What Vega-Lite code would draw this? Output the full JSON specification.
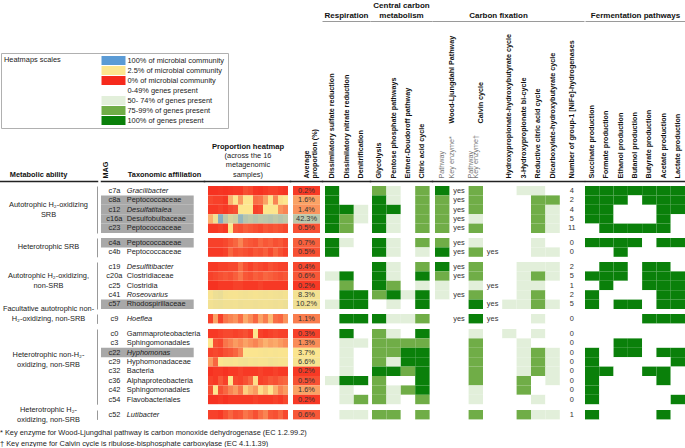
{
"$schema":"https://vega.github.io/schema/vega-lite/v6.json",
"padding":{"left":0,"top":1,"right":0,"bottom":0},
"background":"white",
"config":{"font":"Liberation Sans","view":{"stroke":null},"axis":{"grid":false,"labelFont":"Liberation Sans","titleFont":"Liberation Sans"},"text":{"font":"Liberation Sans","fontSize":7.4,"color":"#222"},"title":{"font":"Liberation Sans","subtitleFont":"Liberation Sans"},
"legend":{"labelFont":"Liberation Sans","titleFont":"Liberation Sans"}},
"title":{"text":["* Key enzyme for Wood-Ljungdhal pathway is carbon monoxide dehydrogenase (EC 1.2.99.2)","† Key enzyme for Calvin cycle is ribulose-bisphosphate carboxylase (EC 4.1.1.39)"],"orient":"bottom","anchor":"start","fontSize":7.4,"fontWeight":"normal","color":"#222","lineHeight":10.5,"offset":6},
"data":{"values":[
{"mag":"c7a","grp":"Autotrophic H₂-oxidizing|SRB","ord":1,"tax":"Gracilibacter","genus":true,"hl":false,"avg":0.2,"hm":[0.1,0.1,0.15,0.1,0.15,0.2,0.2,0.5,0.4,0.15,0.1,0.2,0.3,0.3,0.2,0.15],"sulf":3,"nitr":0,"denit":0,"glyc":2,"ppp":1,"ed":0,"tca":2,"wlp":3,"wlk":1,"cbp":2,"cbk":0,"hphb":0,"hpbi":1,"rtca":1,"dchb":0,"nife":4,"succ":3,"form":3,"etoh":3,"buoh":3,"buty":3,"acet":3,"lact":3},
{"mag":"c8a","grp":"Autotrophic H₂-oxidizing|SRB","ord":2,"tax":"Peptococcaceae","genus":false,"hl":true,"avg":1.6,"hm":[0.4,0.3,0.3,0.2,1.8,2.6,1.5,2.8,2.6,0.9,1.0,1.6,2.8,1.2,2.4,2.5],"sulf":3,"nitr":0,"denit":0,"glyc":3,"ppp":1,"ed":0,"tca":2,"wlp":2,"wlk":1,"cbp":2,"cbk":0,"hphb":0,"hpbi":0,"rtca":2,"dchb":2,"nife":2,"succ":3,"form":3,"etoh":3,"buoh":0,"buty":3,"acet":3,"lact":3},
{"mag":"c12","grp":"Autotrophic H₂-oxidizing|SRB","ord":3,"tax":"Desulfatitalea","genus":true,"hl":true,"avg":1.4,"hm":[0.2,0.2,0.3,0.2,0.4,0.5,3.0,2.8,2.7,0.3,0.4,2.5,2.9,2.6,1.4,1.2],"sulf":3,"nitr":3,"denit":1,"glyc":3,"ppp":3,"ed":0,"tca":2,"wlp":2,"wlk":1,"cbp":2,"cbk":0,"hphb":0,"hpbi":0,"rtca":2,"dchb":1,"nife":4,"succ":3,"form":3,"etoh":0,"buoh":0,"buty":0,"acet":3,"lact":3},
{"mag":"c16a","grp":"Autotrophic H₂-oxidizing|SRB","ord":4,"tax":"Desulfobulbaceae","genus":false,"hl":true,"avg":42.3,"hm":[1.8,10,75,40,25,30,65,45,40,45,40,42,45,40,45,40],"sulf":3,"nitr":2,"denit":1,"glyc":3,"ppp":1,"ed":0,"tca":2,"wlp":2,"wlk":1,"cbp":1,"cbk":0,"hphb":0,"hpbi":0,"rtca":2,"dchb":1,"nife":5,"succ":3,"form":3,"etoh":0,"buoh":0,"buty":0,"acet":3,"lact":0},
{"mag":"c23","grp":"Autotrophic H₂-oxidizing|SRB","ord":5,"tax":"Peptococcaceae","genus":false,"hl":true,"avg":0.5,"hm":[0.2,0.2,0.3,0.2,2.6,0.6,0.5,0.7,0.6,0.5,0.4,0.6,0.5,0.6,0.5,0.4],"sulf":3,"nitr":2,"denit":0,"glyc":3,"ppp":1,"ed":0,"tca":2,"wlp":2,"wlk":1,"cbp":2,"cbk":0,"hphb":0,"hpbi":0,"rtca":2,"dchb":1,"nife":11,"succ":0,"form":3,"etoh":3,"buoh":3,"buty":3,"acet":3,"lact":0},
{"mag":"c4a","grp":"Heterotrophic SRB","ord":6,"tax":"Peptococcaceae","genus":false,"hl":true,"avg":0.7,"hm":[0.3,0.3,0.3,0.4,0.6,0.8,1.2,0.7,0.6,0.5,0.8,0.6,0.7,0.5,0.6,0.4],"sulf":3,"nitr":1,"denit":0,"glyc":3,"ppp":1,"ed":0,"tca":2,"wlp":2,"wlk":1,"cbp":1,"cbk":0,"hphb":0,"hpbi":0,"rtca":1,"dchb":0,"nife":0,"succ":3,"form":3,"etoh":3,"buoh":3,"buty":0,"acet":3,"lact":3},
{"mag":"c4b","grp":"Heterotrophic SRB","ord":7,"tax":"Peptococcaceae","genus":false,"hl":false,"avg":0.5,"hm":[0.2,0.2,0.2,0.3,0.8,0.5,0.6,0.5,0.4,0.6,0.5,0.7,0.4,0.8,0.5,0.3],"sulf":3,"nitr":0,"denit":0,"glyc":3,"ppp":1,"ed":0,"tca":1,"wlp":3,"wlk":1,"cbp":2,"cbk":1,"hphb":0,"hpbi":0,"rtca":1,"dchb":1,"nife":0,"succ":0,"form":0,"etoh":3,"buoh":0,"buty":0,"acet":0,"lact":0},
{"mag":"c19","grp":"Autotrophic H₂-oxidizing,|non-SRB","ord":8,"tax":"Desulfitibacter","genus":true,"hl":false,"avg":0.4,"hm":[0.2,0.2,0.3,0.3,0.4,0.4,0.9,0.5,0.3,0.5,0.4,0.3,0.5,0.4,0.3,0.3],"sulf":0,"nitr":0,"denit":0,"glyc":3,"ppp":1,"ed":0,"tca":2,"wlp":3,"wlk":1,"cbp":2,"cbk":0,"hphb":0,"hpbi":1,"rtca":1,"dchb":1,"nife":2,"succ":0,"form":3,"etoh":3,"buoh":0,"buty":3,"acet":3,"lact":0},
{"mag":"c20a","grp":"Autotrophic H₂-oxidizing,|non-SRB","ord":9,"tax":"Clostridiaceae","genus":false,"hl":false,"avg":0.6,"hm":[0.3,0.4,0.5,0.6,0.5,0.7,1.0,0.6,0.5,0.7,0.6,0.8,0.7,0.6,0.5,0.6],"sulf":1,"nitr":3,"denit":0,"glyc":3,"ppp":1,"ed":0,"tca":3,"wlp":2,"wlk":1,"cbp":2,"cbk":0,"hphb":0,"hpbi":1,"rtca":2,"dchb":1,"nife":5,"succ":3,"form":3,"etoh":3,"buoh":0,"buty":3,"acet":3,"lact":3},
{"mag":"c25","grp":"Autotrophic H₂-oxidizing,|non-SRB","ord":10,"tax":"Clostridia","genus":false,"hl":false,"avg":0.2,"hm":[0.1,0.1,0.2,0.2,0.2,0.3,0.3,0.2,0.2,0.2,0.3,0.2,0.2,0.2,0.2,0.2],"sulf":0,"nitr":2,"denit":0,"glyc":3,"ppp":2,"ed":0,"tca":1,"wlp":1,"wlk":0,"cbp":1,"cbk":1,"hphb":0,"hpbi":1,"rtca":1,"dchb":0,"nife":1,"succ":0,"form":3,"etoh":0,"buoh":0,"buty":3,"acet":3,"lact":3},
{"mag":"c41","grp":"Autotrophic H₂-oxidizing,|non-SRB","ord":11,"tax":"Roseovarius","genus":true,"hl":false,"avg":8.3,"hm":[6,12,14,8,7,6,8,9,8,7,8,9,8,9,10,8],"sulf":0,"nitr":3,"denit":3,"glyc":2,"ppp":3,"ed":1,"tca":3,"wlp":1,"wlk":1,"cbp":2,"cbk":0,"hphb":0,"hpbi":1,"rtca":2,"dchb":0,"nife":2,"succ":3,"form":0,"etoh":0,"buoh":0,"buty":0,"acet":3,"lact":3},
{"mag":"c57","grp":"Autotrophic H₂-oxidizing,|non-SRB","ord":12,"tax":"Rhodospirillaceae","genus":false,"hl":true,"avg":10.2,"hm":[9,11,12,10,10,9,11,10,10,11,10,9,10,11,10,12],"sulf":1,"nitr":3,"denit":3,"glyc":0,"ppp":1,"ed":0,"tca":3,"wlp":0,"wlk":0,"cbp":3,"cbk":1,"hphb":1,"hpbi":1,"rtca":2,"dchb":1,"nife":5,"succ":3,"form":0,"etoh":3,"buoh":3,"buty":0,"acet":3,"lact":3},
{"mag":"c9","grp":"Facultative autotrophic non-|H₂-oxidizing, non-SRB","ord":13,"tax":"Hoeflea","genus":true,"hl":false,"avg":1.1,"hm":[0.3,1.6,0.3,1.0,1.2,1.4,0.9,1.7,1.3,0.8,1.6,1.1,1.9,0.9,0.8,1.4],"sulf":0,"nitr":3,"denit":3,"glyc":3,"ppp":1,"ed":1,"tca":2,"wlp":0,"wlk":1,"cbp":3,"cbk":1,"hphb":0,"hpbi":0,"rtca":1,"dchb":0,"nife":0,"succ":0,"form":0,"etoh":0,"buoh":0,"buty":3,"acet":3,"lact":3},
{"mag":"c0","grp":"Heterotrophic non-H₂-|oxidizing, non-SRB","ord":14,"tax":"Gammaproteobacteria","genus":false,"hl":false,"avg":0.3,"hm":[0.2,0.2,0.3,0.4,0.4,0.3,0.4,0.5,0.3,2.6,0.3,0.2,0.3,0.4,0.3,0.3],"sulf":0,"nitr":3,"denit":0,"glyc":2,"ppp":1,"ed":0,"tca":3,"wlp":0,"wlk":0,"cbp":1,"cbk":0,"hphb":1,"hpbi":0,"rtca":1,"dchb":0,"nife":0,"succ":0,"form":0,"etoh":0,"buoh":0,"buty":0,"acet":0,"lact":0},
{"mag":"c3","grp":"Heterotrophic non-H₂-|oxidizing, non-SRB","ord":15,"tax":"Sphingomonadales","genus":false,"hl":false,"avg":1.3,"hm":[2.6,0.5,0.4,1.0,1.2,1.5,1.3,1.6,1.4,1.2,1.5,1.8,1.6,1.7,1.5,1.3],"sulf":0,"nitr":1,"denit":1,"glyc":2,"ppp":2,"ed":2,"tca":2,"wlp":0,"wlk":0,"cbp":2,"cbk":0,"hphb":0,"hpbi":1,"rtca":0,"dchb":0,"nife":0,"succ":0,"form":0,"etoh":3,"buoh":3,"buty":0,"acet":0,"lact":0},
{"mag":"c22","grp":"Heterotrophic non-H₂-|oxidizing, non-SRB","ord":16,"tax":"Hyphomonas","genus":true,"hl":true,"avg":3.7,"hm":[0.3,0.4,0.3,0.5,0.6,0.8,1.2,3,3.5,4,5,6,5,6,5,4.5],"sulf":0,"nitr":1,"denit":0,"glyc":2,"ppp":2,"ed":3,"tca":3,"wlp":0,"wlk":0,"cbp":2,"cbk":0,"hphb":0,"hpbi":1,"rtca":2,"dchb":1,"nife":0,"succ":3,"form":0,"etoh":3,"buoh":3,"buty":0,"acet":3,"lact":3},
{"mag":"c29","grp":"Heterotrophic non-H₂-|oxidizing, non-SRB","ord":17,"tax":"Hyphomonadaceae","genus":false,"hl":false,"avg":6.6,"hm":[1.5,0.8,4,6,7,5,8,9,7,8,6,7,9,8,7,6],"sulf":0,"nitr":1,"denit":0,"glyc":2,"ppp":1,"ed":3,"tca":3,"wlp":0,"wlk":0,"cbp":2,"cbk":0,"hphb":0,"hpbi":1,"rtca":2,"dchb":1,"nife":0,"succ":3,"form":0,"etoh":0,"buoh":0,"buty":0,"acet":0,"lact":3},
{"mag":"c32","grp":"Heterotrophic non-H₂-|oxidizing, non-SRB","ord":18,"tax":"Bacteria","genus":false,"hl":false,"avg":0.2,"hm":[0.1,0.2,0.2,0.1,0.2,0.2,0.3,0.2,0.2,0.2,0.3,0.2,0.2,0.3,0.2,0.2],"sulf":0,"nitr":1,"denit":0,"glyc":3,"ppp":3,"ed":2,"tca":3,"wlp":0,"wlk":0,"cbp":2,"cbk":0,"hphb":0,"hpbi":1,"rtca":2,"dchb":1,"nife":0,"succ":3,"form":3,"etoh":0,"buoh":0,"buty":3,"acet":3,"lact":0},
{"mag":"c36","grp":"Heterotrophic non-H₂-|oxidizing, non-SRB","ord":19,"tax":"Alphaproteobacteria","genus":false,"hl":false,"avg":0.5,"hm":[0.3,0.2,0.6,0.3,2.6,0.4,0.3,0.5,0.8,2.4,0.3,0.4,0.6,0.5,0.7,0.8],"sulf":1,"nitr":3,"denit":3,"glyc":2,"ppp":0,"ed":0,"tca":3,"wlp":0,"wlk":0,"cbp":2,"cbk":0,"hphb":0,"hpbi":2,"rtca":0,"dchb":1,"nife":0,"succ":3,"form":0,"etoh":0,"buoh":0,"buty":0,"acet":3,"lact":0},
{"mag":"c42","grp":"Heterotrophic non-H₂-|oxidizing, non-SRB","ord":20,"tax":"Sphingomonadales","genus":false,"hl":false,"avg":1.6,"hm":[0.5,2.6,0.5,0.8,1.2,1.5,1.0,2.2,1.8,1.5,2.4,2.0,2.5,1.8,1.2,1.5],"sulf":0,"nitr":1,"denit":0,"glyc":2,"ppp":1,"ed":2,"tca":3,"wlp":0,"wlk":0,"cbp":1,"cbk":0,"hphb":0,"hpbi":2,"rtca":0,"dchb":0,"nife":0,"succ":3,"form":0,"etoh":0,"buoh":0,"buty":0,"acet":0,"lact":0},
{"mag":"c54","grp":"Heterotrophic non-H₂-|oxidizing, non-SRB","ord":21,"tax":"Flavobacteriales","genus":false,"hl":false,"avg":0.2,"hm":[0.1,0.1,0.2,0.1,0.2,0.2,0.2,0.2,0.2,0.3,0.2,0.2,0.2,0.3,0.2,0.4],"sulf":0,"nitr":1,"denit":2,"glyc":2,"ppp":1,"ed":0,"tca":2,"wlp":0,"wlk":0,"cbp":1,"cbk":0,"hphb":0,"hpbi":0,"rtca":1,"dchb":0,"nife":0,"succ":3,"form":0,"etoh":0,"buoh":0,"buty":0,"acet":0,"lact":3},
{"mag":"c52","grp":"Heterotrophic H₂-|oxidizing, non-SRB","ord":22,"tax":"Lutibacter","genus":true,"hl":false,"avg":0.6,"hm":[0.3,0.3,0.2,0.5,0.8,0.5,0.6,1.0,0.8,0.5,0.9,1.2,0.6,0.5,0.8,0.4],"sulf":0,"nitr":1,"denit":1,"glyc":2,"ppp":2,"ed":0,"tca":2,"wlp":0,"wlk":0,"cbp":2,"cbk":0,"hphb":0,"hpbi":2,"rtca":1,"dchb":1,"nife":1,"succ":3,"form":0,"etoh":0,"buoh":0,"buty":0,"acet":3,"lact":0}
]},
"spacing":0,
"resolve":{"scale":{"color":"shared","fill":"shared"}},
"hconcat":[
{"facet":{"row":{"field":"grp","type":"nominal","sort":["Autotrophic H₂-oxidizing|SRB","Heterotrophic SRB","Autotrophic H₂-oxidizing,|non-SRB","Facultative autotrophic non-|H₂-oxidizing, non-SRB","Heterotrophic non-H₂-|oxidizing, non-SRB","Heterotrophic H₂-|oxidizing, non-SRB"],"title":null,"header":{"labels":false}}},
 "spacing":{"row":5},"bounds":"flush","align":"none","resolve":{"scale":{"y":"independent"}},
 "spec":{"width":97,"height":{"step":9.4},"layer":[
  {"mark":{"type":"rect","opacity":0},"encoding":{"y":{"field":"mag","type":"nominal","sort":{"field":"ord","op":"min"},"scale":{"paddingInner":0,"paddingOuter":0},"axis":null},
   "x":{"datum":"Metabolic ability","type":"nominal","scale":{"paddingInner":0,"paddingOuter":0},"axis":{"orient":"top","offset":5,"domain":true,"domainColor":"#222","domainWidth":1.5,"domainCap":"square","ticks":false,"labelAngle":0,"labelPadding":3,"labelFontSize":7.4,"labelFontWeight":"bold","labelColor":"#111","labelOffset":-10,"title":null}}}},
  {"transform":[{"filter":"datum.mag == 'c12' || datum.mag == 'c52'"}],"mark":{"type":"text","lineBreak":"|","lineHeight":10,"dy":-5},"encoding":{"y":{"field":"mag","type":"nominal","sort":{"field":"ord","op":"min"},"bandPosition":0.5,"axis":null},"x":{"datum":"Metabolic ability","type":"nominal"},"text":{"field":"grp"}}},
  {"transform":[{"filter":"datum.mag == 'c4a'"}],"mark":{"type":"text","lineBreak":"|","lineHeight":10},"encoding":{"y":{"field":"mag","type":"nominal","sort":{"field":"ord","op":"min"},"bandPosition":1,"axis":null},"x":{"datum":"Metabolic ability","type":"nominal"},"text":{"field":"grp"}}},
  {"transform":[{"filter":"datum.mag == 'c20a'"}],"mark":{"type":"text","lineBreak":"|","lineHeight":10,"dy":-5},"encoding":{"y":{"field":"mag","type":"nominal","sort":{"field":"ord","op":"min"},"bandPosition":1,"axis":null},"x":{"datum":"Metabolic ability","type":"nominal"},"text":{"field":"grp"}}},
  {"transform":[{"filter":"datum.mag == 'c9'"}],"mark":{"type":"text","lineBreak":"|","lineHeight":10,"dy":-5},"encoding":{"y":{"field":"mag","type":"nominal","sort":{"field":"ord","op":"min"},"bandPosition":0,"axis":null},"x":{"datum":"Metabolic ability","type":"nominal"},"text":{"field":"grp"}}},
  {"transform":[{"filter":"datum.mag == 'c29'"}],"mark":{"type":"text","lineBreak":"|","lineHeight":10,"dy":-5},"encoding":{"y":{"field":"mag","type":"nominal","sort":{"field":"ord","op":"min"},"bandPosition":0.3,"axis":null},"x":{"datum":"Metabolic ability","type":"nominal"},"text":{"field":"grp"}}}
 ]}},
{"facet":{"row":{"field":"grp","type":"nominal","sort":["Autotrophic H₂-oxidizing|SRB","Heterotrophic SRB","Autotrophic H₂-oxidizing,|non-SRB","Facultative autotrophic non-|H₂-oxidizing, non-SRB","Heterotrophic non-H₂-|oxidizing, non-SRB","Heterotrophic H₂-|oxidizing, non-SRB"],"title":null,"header":{"labels":false}}},
 "spacing":{"row":5},"bounds":"flush","align":"none","resolve":{"scale":{"y":"independent"}},
 "spec":{"width":103,"height":{"step":9.4},"layer":[
  {"transform":[{"filter":"datum.hl"}],"mark":{"type":"rect","color":"#a8a8a8","width":{"band":9}},"encoding":{
   "y":{"field":"mag","type":"nominal","sort":{"field":"ord","op":"min"},"scale":{"paddingInner":0,"paddingOuter":0},"axis":{"domain":true,"domainColor":"#999","domainWidth":1,"labels":false,"ticks":false,"title":null,"offset":4,"grid":false}},
   "x":{"datum":"m4","type":"nominal","scale":{"domain":["m0","m1","t","m3","m4","m5","m6","m7","m8","pad"],"paddingInner":0,"paddingOuter":0},"axis":{"orient":"top","offset":5,"domain":true,"domainColor":"#222","domainWidth":1.5,"domainCap":"square","ticks":false,"labelAngle":-90,"labelPadding":3,"labelFontSize":7.2,"labelFontWeight":"bold","labelColor":"#111","labelExpr":"datum.value == 'm0' ? 'MAG' : ''","title":"Taxonomic affiliation","titleAngle":0,"titleX":63,"titleY":-3,"titleAlign":"center","titleBaseline":"bottom","titleFontSize":7.4,"titleFontWeight":"bold","titleColor":"#111"}}}},
  {"mark":{"type":"text"},"encoding":{"y":{"field":"mag","type":"nominal","sort":{"field":"ord","op":"min"},"scale":{"paddingInner":0,"paddingOuter":0},"axis":{"domain":true,"domainColor":"#999","domainWidth":1,"labels":false,"ticks":false,"title":null,"offset":4,"grid":false}},"x":{"datum":"m1","type":"nominal","bandPosition":0.3},"text":{"field":"mag"}}},
  {"transform":[{"filter":"!datum.genus"}],"mark":{"type":"text","align":"left"},"encoding":{"y":{"field":"mag","type":"nominal","sort":{"field":"ord","op":"min"},"scale":{"paddingInner":0,"paddingOuter":0},"axis":{"domain":true,"domainColor":"#999","domainWidth":1,"labels":false,"ticks":false,"title":null,"offset":4,"grid":false}},"x":{"datum":"t","type":"nominal","bandPosition":0.5},"text":{"field":"tax"}}},
  {"transform":[{"filter":"datum.genus"}],"mark":{"type":"text","align":"left","fontStyle":"italic"},"encoding":{"y":{"field":"mag","type":"nominal","sort":{"field":"ord","op":"min"},"scale":{"paddingInner":0,"paddingOuter":0},"axis":{"domain":true,"domainColor":"#999","domainWidth":1,"labels":false,"ticks":false,"title":null,"offset":4,"grid":false}},"x":{"datum":"t","type":"nominal","bandPosition":0.5},"text":{"field":"tax"}}}
 ]}},
{"facet":{"row":{"field":"grp","type":"nominal","sort":["Autotrophic H₂-oxidizing|SRB","Heterotrophic SRB","Autotrophic H₂-oxidizing,|non-SRB","Facultative autotrophic non-|H₂-oxidizing, non-SRB","Heterotrophic non-H₂-|oxidizing, non-SRB","Heterotrophic H₂-|oxidizing, non-SRB"],"title":null,"header":{"labels":false}}},
 "spacing":{"row":5},"bounds":"flush","align":"none","resolve":{"scale":{"y":"independent"}},
 "title":{"text":"Proportion heatmap","subtitle":["(across the 16","metagenomic","samples)"],"fontSize":7.6,"fontWeight":"bold","color":"#111","subtitleFontSize":7.4,"subtitleColor":"#222","subtitlePadding":1,"subtitleLineHeight":9.5,"offset":3,"anchor":"middle","dx":1},
 "spec":{"width":86,"height":{"step":9.4},
  "transform":[{"flatten":["hm"],"as":["v"]},{"window":[{"op":"row_number","as":"s"}],"groupby":["mag"]}],
  "mark":"rect","encoding":{
   "y":{"field":"mag","type":"nominal","sort":{"field":"ord","op":"min"},"scale":{"paddingInner":0,"paddingOuter":0},"axis":null},
   "x":{"field":"s","type":"ordinal","scale":{"domain":[1,2,3,4,5,6,7,8,9,10,11,12,13,14,15,16],"paddingInner":0,"paddingOuter":0.6,"align":0.667},"axis":{"orient":"top","offset":5,"domain":true,"domainColor":"#222","domainWidth":1.5,"domainCap":"square","ticks":false,"labels":false,"title":null}},
   "color":{"field":"v","type":"quantitative","scale":{"domain":[0,2.5,100],"range":["#f62a1c","#fde68e","#5b9bd5"],"interpolate":"rgb"},"legend":null}}}},
{"facet":{"row":{"field":"grp","type":"nominal","sort":["Autotrophic H₂-oxidizing|SRB","Heterotrophic SRB","Autotrophic H₂-oxidizing,|non-SRB","Facultative autotrophic non-|H₂-oxidizing, non-SRB","Heterotrophic non-H₂-|oxidizing, non-SRB","Heterotrophic H₂-|oxidizing, non-SRB"],"title":null,"header":{"labels":false}}},
 "spacing":{"row":5},"bounds":"flush","align":"none","resolve":{"scale":{"y":"independent"}},
 "spec":{"width":32,"height":{"step":9.4},"layer":[
  {"mark":"rect","encoding":{
   "y":{"field":"mag","type":"nominal","sort":{"field":"ord","op":"min"},"scale":{"paddingInner":0,"paddingOuter":0},"axis":null},
   "x":{"datum":"avg","type":"nominal","scale":{"paddingInner":0,"paddingOuter":0.0926,"align":0.6},"axis":{"orient":"top","offset":5,"domain":true,"domainColor":"#222","domainWidth":1.5,"domainCap":"square","ticks":false,"labelAngle":-90,"labelPadding":3,"labelFontSize":7.2,"labelFontWeight":"bold","labelColor":"#111","labelExpr":"['Average','proportion (%)']","labelLineHeight":8.5,"title":null}},
   "color":{"field":"avg","type":"quantitative","scale":{"domain":[0,2.5,100],"range":["#f62a1c","#fde68e","#5b9bd5"],"interpolate":"rgb"},"legend":null}}},
  {"transform":[{"calculate":"format(datum.avg, '.1f') + '%'","as":"lab"}],"mark":{"type":"text","color":"#333"},"encoding":{
   "y":{"field":"mag","type":"nominal","sort":{"field":"ord","op":"min"},"scale":{"paddingInner":0,"paddingOuter":0},"axis":null},
   "x":{"datum":"avg","type":"nominal"},"text":{"field":"lab"}}}
 ]}},
{"facet":{"row":{"field":"grp","type":"nominal","sort":["Autotrophic H₂-oxidizing|SRB","Heterotrophic SRB","Autotrophic H₂-oxidizing,|non-SRB","Facultative autotrophic non-|H₂-oxidizing, non-SRB","Heterotrophic non-H₂-|oxidizing, non-SRB","Heterotrophic H₂-|oxidizing, non-SRB"],"title":null,"header":{"labels":false}}},
 "spacing":{"row":5},"bounds":"flush","align":"none","resolve":{"scale":{"y":"independent"}},
 "spec":{"width":48,"height":{"step":9.4},"resolve":{"axis":{"x":"independent"}},"layer":[
  {"transform":[{"fold":["sulf","nitr","denit"],"as":["k","lvl"]}],"mark":"rect","encoding":{
   "y":{"field":"mag","type":"nominal","sort":{"field":"ord","op":"min"},"scale":{"paddingInner":0,"paddingOuter":0},"axis":null},
   "x":{"field":"k","type":"nominal","scale":{"domain":["sulf","nitr","denit"],"paddingInner":0,"paddingOuter":0.1667,"align":0.625},"axis":{"orient":"top","offset":5,"domain":true,"domainColor":"#222","domainWidth":1.5,"domainCap":"square","ticks":false,"labelAngle":-90,"labelPadding":3,"labelFontSize":7.2,"labelFontWeight":"bold","labelColor":"#111","labelLimit":300,"title":null,"labelExpr":"{'sulf':'Dissimilatory sulfate reduction','nitr':'Dissimilatory nitrate reduction','denit':'Denitrification'}[datum.value]"}},
   "fill":{"field":"lvl","type":"ordinal","scale":{"domain":["h100","h2.5","h0",0,1,2,3],"range":["#5b9bd5","#fde68e","#f62a1c","#ffffff","#e2efda","#70ad47","#0a800a"]},
    "legend":{"orient":"none","legendX":1,"legendY":-133,"title":"Heatmaps scales","titleOrient":"left","titleAnchor":"start","titleBaseline":"top","titleFontWeight":"normal","titleFontSize":7.4,"titleColor":"#222","titlePadding":48,"symbolType":"M-2.667,-1H2.667V1H-2.667Z","symbolSize":81,"symbolStrokeWidth":0,"symbolOpacity":1,"labelFontSize":7.4,"labelColor":"#222","labelOffset":9.5,"rowPadding":1,"strokeColor":"#b0b0b0","padding":3,"labelLimit":200,
     "labelExpr":"{'h100':'100% of microbial community','h2.5':'2.5%  of microbial community','h0':'0%  of microbial community','0':'0-49% genes present','1':'50- 74% of genes present','2':'75-99% of genes present','3':'100% of genes present'}[datum.value]"}}}},
  {"transform":[{"filter":"false"}],"mark":"rect","encoding":{
   "y":{"field":"mag","type":"nominal","sort":{"field":"ord","op":"min"},"scale":{"paddingInner":0,"paddingOuter":0},"axis":null},
   "x":{"field":"k","type":"nominal","axis":{"orient":"top","offset":165,"domain":true,"domainColor":"#9a9a9a","domainWidth":1,"ticks":false,"labels":false,"title":"Respiration","titleFontSize":8,"titleFontWeight":"bold","titlePadding":2,"titleColor":"#111"}}}}
 ]}},
{"facet":{"row":{"field":"grp","type":"nominal","sort":["Autotrophic H₂-oxidizing|SRB","Heterotrophic SRB","Autotrophic H₂-oxidizing,|non-SRB","Facultative autotrophic non-|H₂-oxidizing, non-SRB","Heterotrophic non-H₂-|oxidizing, non-SRB","Heterotrophic H₂-|oxidizing, non-SRB"],"title":null,"header":{"labels":false}}},
 "spacing":{"row":5},"bounds":"flush","align":"none","resolve":{"scale":{"y":"independent"}},
 "spec":{"width":62,"height":{"step":9.4},"resolve":{"axis":{"x":"independent"}},"layer":[
  {"transform":[{"fold":["glyc","ppp","ed","tca"],"as":["k","lvl"]}],"mark":"rect","encoding":{
   "y":{"field":"mag","type":"nominal","sort":{"field":"ord","op":"min"},"scale":{"paddingInner":0,"paddingOuter":0},"axis":null},
   "x":{"field":"k","type":"nominal","scale":{"domain":["glyc","ppp","ed","tca"],"paddingInner":0,"paddingOuter":0.1528,"align":0.4545},"axis":{"orient":"top","offset":5,"domain":true,"domainColor":"#222","domainWidth":1.5,"domainCap":"square","ticks":false,"labelAngle":-90,"labelPadding":3,"labelFontSize":7.2,"labelFontWeight":"bold","labelColor":"#111","labelLimit":300,"title":null,"labelExpr":"{'glyc':'Glycolysis','ppp':'Pentose phosphate pathways','ed':'Entner-Doudoroff pathway','tca':'Citric acid cycle'}[datum.value]"}},
   "fill":{"field":"lvl","type":"ordinal","scale":{"domain":["h100","h2.5","h0",0,1,2,3],"range":["#5b9bd5","#fde68e","#f62a1c","#ffffff","#e2efda","#70ad47","#0a800a"]}}}},
  {"transform":[{"filter":"false"}],"mark":"rect","encoding":{
   "y":{"field":"mag","type":"nominal","sort":{"field":"ord","op":"min"},"scale":{"paddingInner":0,"paddingOuter":0},"axis":null},
   "x":{"field":"k","type":"nominal","axis":{"orient":"top","offset":165,"domain":true,"domainColor":"#9a9a9a","domainWidth":1,"ticks":false,"labels":false,"title":["Central carbon","metabolism"],"titleFontSize":8,"titleFontWeight":"bold","titlePadding":2,"titleLineHeight":9.5,"titleColor":"#111"}}}}
 ]}},
{"facet":{"row":{"field":"grp","type":"nominal","sort":["Autotrophic H₂-oxidizing|SRB","Heterotrophic SRB","Autotrophic H₂-oxidizing,|non-SRB","Facultative autotrophic non-|H₂-oxidizing, non-SRB","Heterotrophic non-H₂-|oxidizing, non-SRB","Heterotrophic H₂-|oxidizing, non-SRB"],"title":null,"header":{"labels":false}}},
 "spacing":{"row":5},"bounds":"flush","align":"none","resolve":{"scale":{"y":"independent"}},
 "spec":{"width":152,"height":{"step":9.4},"resolve":{"axis":{"x":"independent"}},"layer":[
  {"transform":[{"fold":["wlp","cbp","hphb","hpbi","rtca","dchb"],"as":["k","lvl"]}],"mark":{"type":"rect","width":{"band":3}},"encoding":{
   "y":{"field":"mag","type":"nominal","sort":{"field":"ord","op":"min"},"scale":{"paddingInner":0,"paddingOuter":0},"axis":null},
   "x":{"field":"k","type":"nominal","scale":{"domain":["c0","wlp","c2","c3","wlk","c5","c6","c7","cbp","c9","c10","cbk","c12","c13","c14","hphb","c16","c17","hpbi","c19","c20","rtca","c22","c23","dchb","c25","n26","n27","nife","n29","n30"],"paddingInner":0,"paddingOuter":0.3333,"align":0.9375},
    "axis":{"orient":"top","offset":5,"domain":true,"domainColor":"#222","domainWidth":1.5,"domainCap":"square","ticks":false,"labelAngle":-90,"labelPadding":3,"labelFontSize":7.2,"labelLimit":300,"title":null,
     "labelFontWeight":{"condition":{"test":"indexof(['wlp','c3','c7','cbp'], datum.value) >= 0","value":"normal"},"value":"bold"},
     "labelColor":{"condition":{"test":"indexof(['wlp','c3','c7','cbp'], datum.value) >= 0","value":"#777"},"value":"#111"},
     "labelExpr":"{'wlp':'Pathway','c3':'Key enzyme*','c7':'Pathway','cbp':'Key enzyme†','hphb':'Hydroxypropionate-hydroxybutyrate cycle','hpbi':'3-Hydroxypropionate bi-cycle','rtca':'Reductive citric acid cycle','dchb':'Dicarboxylate-hydroxybutyrate cycle','nife':'Number of group-1 [NiFe]-hydrogenases'}[datum.value] || ''"}},
   "fill":{"field":"lvl","type":"ordinal","scale":{"domain":["h100","h2.5","h0",0,1,2,3],"range":["#5b9bd5","#fde68e","#f62a1c","#ffffff","#e2efda","#70ad47","#0a800a"]}}}},
  {"transform":[{"filter":"datum.wlk == 1"}],"mark":{"type":"text","color":"#333"},"encoding":{
   "y":{"field":"mag","type":"nominal","sort":{"field":"ord","op":"min"},"scale":{"paddingInner":0,"paddingOuter":0},"axis":null},
   "x":{"datum":"wlk","type":"nominal","bandPosition":1,"axis":null},"text":{"value":"yes"}}},
  {"transform":[{"filter":"datum.cbk == 1"}],"mark":{"type":"text","color":"#333"},"encoding":{
   "y":{"field":"mag","type":"nominal","sort":{"field":"ord","op":"min"},"scale":{"paddingInner":0,"paddingOuter":0},"axis":null},
   "x":{"datum":"cbk","type":"nominal","bandPosition":1,"axis":null},"text":{"value":"yes"}}},
  {"mark":{"type":"text","color":"#333"},"encoding":{
   "y":{"field":"mag","type":"nominal","sort":{"field":"ord","op":"min"},"scale":{"paddingInner":0,"paddingOuter":0},"axis":null},
   "x":{"datum":"nife","type":"nominal","axis":null},"text":{"field":"nife"}}},
  {"transform":[{"filter":"false"}],"mark":"rect","encoding":{
   "y":{"field":"mag","type":"nominal","sort":{"field":"ord","op":"min"},"scale":{"paddingInner":0,"paddingOuter":0},"axis":null},
   "x":{"field":"k","type":"nominal","axis":{"orient":"top","offset":60,"domain":false,"ticks":false,"labelAngle":-90,"labelPadding":3,"labelFontSize":7.2,"labelFontWeight":"bold","labelColor":"#111","labelLimit":300,"title":null,"labelExpr":"datum.value == 'c3' ? 'Wood-Ljungdahl Pathway' : datum.value == 'c9' ? 'Calvin cycle' : ''"}}}},
  {"transform":[{"filter":"false"}],"mark":"rect","encoding":{
   "y":{"field":"mag","type":"nominal","sort":{"field":"ord","op":"min"},"scale":{"paddingInner":0,"paddingOuter":0},"axis":null},
   "x":{"field":"k","type":"nominal","axis":{"orient":"top","offset":165,"domain":true,"domainColor":"#9a9a9a","domainWidth":1,"ticks":false,"labels":false,"title":"Carbon fixation","titleX":66,"titleY":-2,"titleAlign":"center","titleBaseline":"bottom","titleFontSize":8,"titleFontWeight":"bold","titleColor":"#111"}}}}
 ]}},
{"facet":{"row":{"field":"grp","type":"nominal","sort":["Autotrophic H₂-oxidizing|SRB","Heterotrophic SRB","Autotrophic H₂-oxidizing,|non-SRB","Facultative autotrophic non-|H₂-oxidizing, non-SRB","Heterotrophic non-H₂-|oxidizing, non-SRB","Heterotrophic H₂-|oxidizing, non-SRB"],"title":null,"header":{"labels":false}}},
 "spacing":{"row":5},"bounds":"flush","align":"none","resolve":{"scale":{"y":"independent"}},
 "spec":{"width":100,"height":{"step":9.4},"resolve":{"axis":{"x":"independent"}},"layer":[
  {"transform":[{"fold":["succ","form","etoh","buoh","buty","acet","lact"],"as":["k","lvl"]}],"mark":"rect","encoding":{
   "y":{"field":"mag","type":"nominal","sort":{"field":"ord","op":"min"},"scale":{"paddingInner":0,"paddingOuter":0},"axis":null},
   "x":{"field":"k","type":"nominal","scale":{"domain":["succ","form","etoh","buoh","buty","acet","lact"],"paddingInner":0,"paddingOuter":0},"axis":{"orient":"top","offset":5,"domain":true,"domainColor":"#222","domainWidth":1.5,"domainCap":"square","ticks":false,"labelAngle":-90,"labelPadding":3,"labelFontSize":7.2,"labelFontWeight":"bold","labelColor":"#111","labelLimit":300,"title":null,"labelExpr":"{'succ':'Succinate production','form':'Formate production','etoh':'Ethanol production','buoh':'Butanol production','buty':'Butyrate production','acet':'Acetate production','lact':'Lactate production'}[datum.value]"}},
   "fill":{"field":"lvl","type":"ordinal","scale":{"domain":["h100","h2.5","h0",0,1,2,3],"range":["#5b9bd5","#fde68e","#f62a1c","#ffffff","#e2efda","#70ad47","#0a800a"]}}}},
  {"transform":[{"filter":"false"}],"mark":"rect","encoding":{
   "y":{"field":"mag","type":"nominal","sort":{"field":"ord","op":"min"},"scale":{"paddingInner":0,"paddingOuter":0},"axis":null},
   "x":{"field":"k","type":"nominal","axis":{"orient":"top","offset":165,"domain":true,"domainColor":"#9a9a9a","domainWidth":1,"ticks":false,"labels":false,"title":"Fermentation pathways","titleFontSize":8,"titleFontWeight":"bold","titlePadding":2,"titleColor":"#111"}}}}
 ]}}
]
}
